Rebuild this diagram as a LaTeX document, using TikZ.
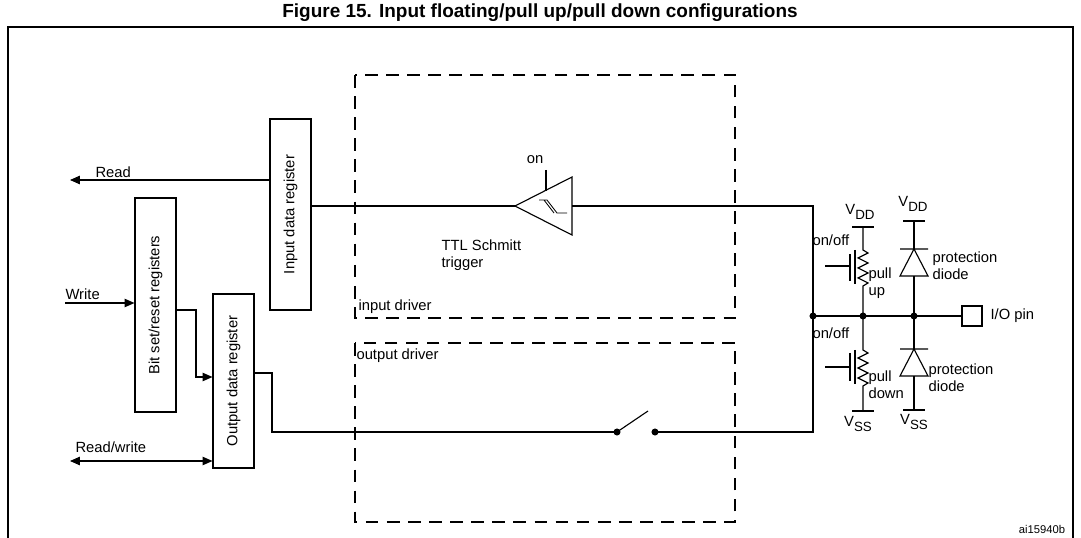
\documentclass[tikz,border=0pt]{standalone}
\usepackage{fontspec}
\setmainfont{Liberation Sans}
\usetikzlibrary{arrows.meta}
\newcommand{\vsub}[1]{V\raisebox{-3pt}{\fontsize{9.5}{10}\selectfont #1}}
\begin{document}
\begin{tikzpicture}[x=0.025cm,y=-0.025cm,line width=0.8pt,
 txt/.style={font=\fontsize{10.5}{12}\selectfont,inner sep=0pt},
 reg/.style={draw,minimum width=1.025cm,inner sep=0pt,font=\fontsize{10.5}{12}\selectfont},
 dashbox/.style={dash pattern=on 9pt off 6pt},
 dot/.style={circle,fill,inner sep=0pt,minimum size=5pt},
 arr/.style={-{Triangle[length=7pt,width=6pt]}}]
\useasboundingbox (0,0) rectangle (1081,538);
\node[font=\fontsize{13.5}{15}\selectfont\bfseries] (title) at (540,13) {Figure 15. Input floating/pull up/pull down configurations};
\draw (8,538) -- (8,27) -- (1073,27) -- (1073,538);
% dashed driver boxes
\draw[dashbox] (355,75) rectangle (735,318);
\draw[dashbox] (355,343) rectangle (735,522);
\node[txt,anchor=west] (ind) at (358,307) {input driver};
\node[txt,anchor=west] (outd) at (356,356) {output driver};
% registers
\node[reg,minimum height=4.775cm] (idr) at (290.5,214.5) {};
\node[txt,rotate=90] at (idr) {Input data register};
\node[reg,minimum height=5.35cm] (bsr) at (155.5,305) {};
\node[txt,rotate=90] at (bsr) {Bit set/reset registers};
\node[reg,minimum height=4.35cm] (odr) at (233.5,381) {};
\node[txt,rotate=90] at (odr) {Output data register};
% read / write
\coordinate (rd) at (70,180);
\draw[arr] (idr.west |- 0,180) -- (rd);
\node[txt,anchor=west] at (95,172) {Read};
\coordinate (wr) at (65,303);
\draw[arr] (wr) -- (bsr.west |- 0,303);
\node[txt,anchor=west] at (65,294) {Write};
\coordinate (rw) at (70,461);
\draw[{Triangle[length=7pt,width=6pt]}-{Triangle[length=7pt,width=6pt]}] (rw) -- (odr.west |- 0,461);
\node[txt,anchor=west] at (75,447) {Read/write};
\draw[arr] (bsr.east |- 0,310) -- (196,310) -- (196,377) -- (odr.west |- 0,377);
% schmitt trigger
\coordinate (st) at (515,206);
\draw (st) -- (572,177) -- (572,235) -- cycle;
\draw (546,170) -- (546,191);
\node[txt] at (535,160) {on};
\draw[line width=0.6pt] (539,200) -- (547,200) -- (557,213) -- (567,213) (544,200) -- (554,213);
\node[txt,anchor=west,align=left] at (441,255) {TTL Schmitt\\trigger};
\draw (idr.east |- 0,206) -- (st);
\coordinate (nA) at (813,316);
\coordinate (nB) at (863,316);
\coordinate (nC) at (914,316);
\draw (572,206) -- (813,206) -- (nA) -- (813,432) -- (655,432);
\draw (odr.east |- 0,373) -- (272,373) -- (272,432) -- (617,432);
\node[dot] at (617,432) {}; \node[dot] at (655,432) {};
\draw (617,432) -- (648,411);
\node[draw,minimum size=0.5cm,inner sep=0pt] (io) at (972,316) {};
\draw (nA) -- (io.west);
\node[txt,anchor=west] at (990,316) {I/O pin};
\node[dot] at (nA) {}; \node[dot] at (nB) {}; \node[dot] at (nC) {};
% pull up
\draw (852,227) -- (874,227);
\draw (863,227) -- (863,250) -- (868,253) -- (858,258) -- (868,263) -- (858,268) -- (868,273) -- (858,278) -- (868,283) -- (863,286) -- (nB);
\draw (855,250) -- (855,284) (850,254) -- (850,281) (825,266) -- (850,266);
\node[txt] at (860,212) {\vsub{DD}};
\node[txt,anchor=west] at (812,240) {on/off};
\node[txt,anchor=west,align=left] at (868,283) {pull\\up};
% pull down
\draw (nB) -- (863,350) -- (868,353) -- (858,358) -- (868,363) -- (858,368) -- (868,373) -- (858,378) -- (868,383) -- (863,386) -- (863,411);
\draw (852,411) -- (874,411);
\draw (855,350) -- (855,384) (850,353) -- (850,381) (825,367) -- (850,367);
\node[txt] at (858,424) {\vsub{SS}};
\node[txt,anchor=west] at (812,333) {on/off};
\node[txt,anchor=west,align=left] at (868,385) {pull\\down};
% diodes
\draw (903,221) -- (925,221);
\draw (914,221) -- (914,249) (914,276) -- (nC) -- (914,349) (914,376) -- (914,410);
\draw (900,249) -- (928,249) (914,249) -- (900,276) -- (928,276) -- cycle;
\draw (900,349) -- (928,349) (914,349) -- (900,376) -- (928,376) -- cycle;
\draw (903,410) -- (925,410);
\node[txt] at (913,204) {\vsub{DD}};
\node[txt] at (914,422) {\vsub{SS}};
\node[txt,anchor=west,align=left] at (932,266) {protection\\diode};
\node[txt,anchor=west,align=left] at (928,378) {protection\\diode};
\node[txt,font=\fontsize{8}{9}\selectfont] at (1042,529) {ai15940b};
\end{tikzpicture}
\end{document}
